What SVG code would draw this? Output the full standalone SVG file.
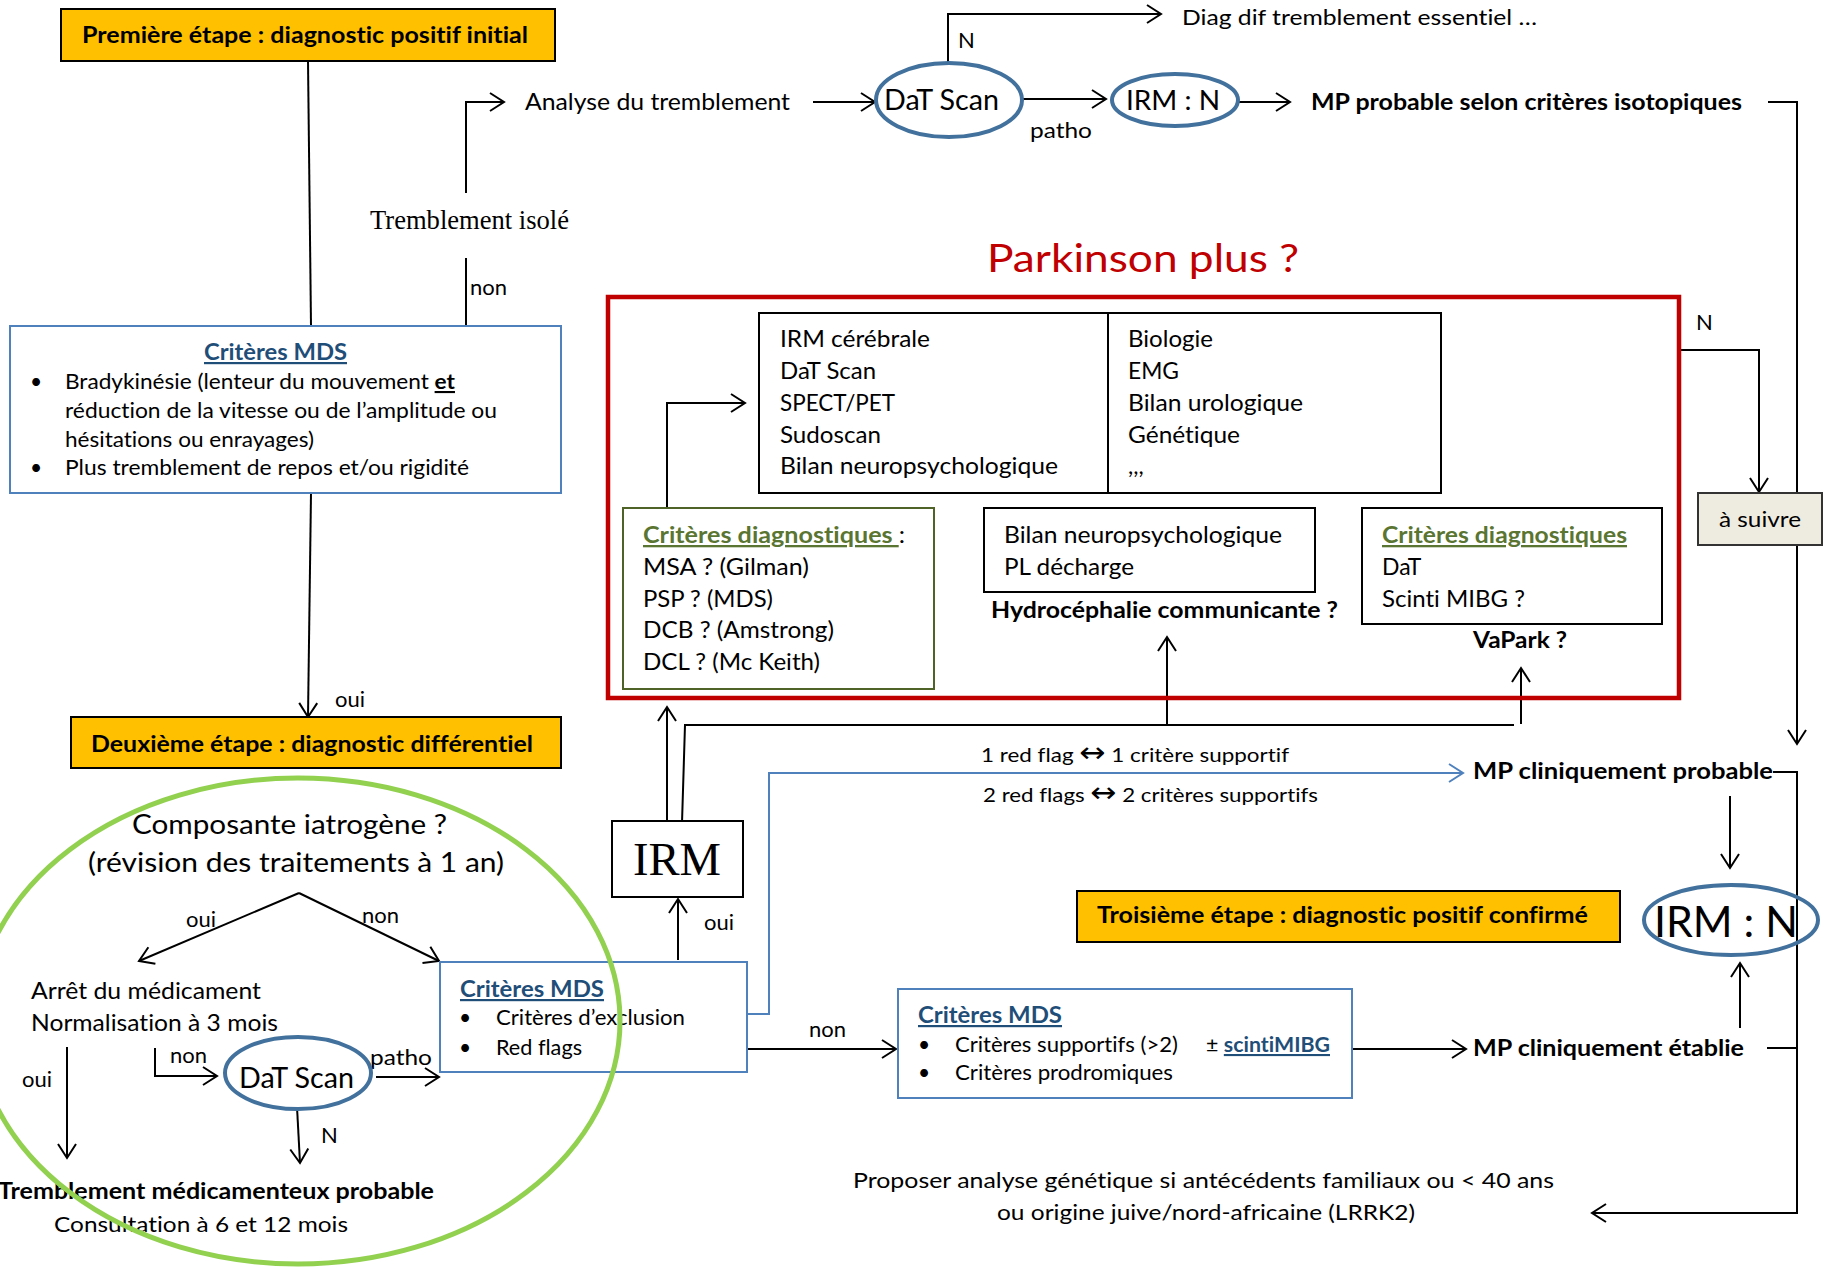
<svg xmlns="http://www.w3.org/2000/svg" width="1826" height="1268" viewBox="0 0 1826 1268" font-size="22">
<style>
text{font-family:Lato,'Liberation Sans',sans-serif;fill:#000;font-variant-ligatures:none}
.b{font-weight:bold}
.ser{font-family:'Liberation Serif',serif}
.u{text-decoration:underline}
.blue{fill:#1F4E79}
.olive{fill:#5A7531}
.red{fill:#C00000}
.arr{font-family:'DejaVu Sans',sans-serif}
.stage{fill:#FFC000;stroke:#000;stroke-width:2}
.bx{fill:#fff;stroke:#000;stroke-width:2}
.bbx{fill:#fff;stroke:#4F81BD;stroke-width:2}
.gbx{fill:#fff;stroke:#4F6228;stroke-width:2}
.ell{fill:none;stroke:#41719C;stroke-width:4}
.c{fill:none;stroke:#000;stroke-width:2}
.ca{fill:none;stroke:#000;stroke-width:2;marker-end:url(#a)}
.cb{fill:none;stroke:#4F81BD;stroke-width:2;marker-end:url(#ab)}
</style>
<defs>
<marker id="a" markerUnits="userSpaceOnUse" markerWidth="20" markerHeight="24" viewBox="-17 -12 20 24" refX="0" refY="0" orient="auto"><path d="M-14,-9 L0,0 L-14,9" fill="none" stroke="#000" stroke-width="2"/></marker>
<marker id="ab" markerUnits="userSpaceOnUse" markerWidth="20" markerHeight="24" viewBox="-17 -12 20 24" refX="0" refY="0" orient="auto"><path d="M-14,-9 L0,0 L-14,9" fill="none" stroke="#4F81BD" stroke-width="2"/></marker>
</defs>
<rect width="1826" height="1268" fill="#fff"/>

<g id="connectors">
<path class="c" d="M308,61 L311,326"/>
<path class="ca" d="M466,193 V102 H504"/>
<path class="c" d="M466,258 V326"/>
<path class="ca" d="M813,102 H875"/>
<path class="ca" d="M948,63 V14 H1161"/>
<path class="ca" d="M1022,99 H1106"/>
<path class="ca" d="M1238,102 H1290"/>
<path class="ca" d="M1768,102 H1797 V744"/>
<path class="ca" d="M311,493 L308,717"/>
<path class="ca" d="M667,518 V403 H745"/>
<path class="ca" d="M1680,350 H1759 V492"/>
<path class="ca" d="M667,821 V707"/>
<path class="c" d="M682,823 L685,725 H1514"/>
<path class="ca" d="M1167,725 V637"/>
<path class="ca" d="M1521,724 V668"/>
<path class="cb" d="M747,1014 H769 V773 H1463"/>
<path class="ca" d="M747,1049 H896"/>
<path class="ca" d="M678,960 V899"/>
<path class="ca" d="M1353,1049 H1466"/>
<path class="ca" d="M1773,772 H1797 V1213 H1592"/>
<path class="c" d="M1767,1048 H1797"/>
<path class="ca" d="M1730,796 V868"/>
<path class="ca" d="M1740,1028 V963"/>
<path class="ca" d="M299,893 L139,961"/>
<path class="ca" d="M299,893 L439,961"/>
<path class="ca" d="M67,1047 V1158"/>
<path class="ca" d="M155,1048 V1076 H217"/>
<path class="ca" d="M376,1077 H439"/>
<path class="ca" d="M297,1107 L300,1163"/>
</g>

<g id="labels">
<text x="525" y="110" font-size="23" textLength="265" lengthAdjust="spacingAndGlyphs">Analyse du tremblement</text>
<text class="ser" x="370" y="229" font-size="28" textLength="199" lengthAdjust="spacingAndGlyphs">Tremblement isolé</text>
<text x="470" y="295">non</text>
<text x="958" y="48">N</text>
<text x="1182" y="25" textLength="355" lengthAdjust="spacingAndGlyphs">Diag dif tremblement essentiel …</text>
<text x="1030" y="138" textLength="62" lengthAdjust="spacingAndGlyphs">patho</text>
<text class="b" x="1311" y="110" textLength="431" lengthAdjust="spacingAndGlyphs">MP probable selon critères isotopiques</text>
<text class="red" x="987" y="272" font-size="39" textLength="312" lengthAdjust="spacingAndGlyphs">Parkinson plus ?</text>
<text x="335" y="707">oui</text>
<text class="b" x="991" y="618" textLength="347" lengthAdjust="spacingAndGlyphs">Hydrocéphalie communicante ?</text>
<text class="b" x="1473" y="648" textLength="94" lengthAdjust="spacingAndGlyphs">VaPark ?</text>
<text x="1696" y="330">N</text>
<text x="704" y="930">oui</text>
<text x="981" y="762" font-size="20" textLength="308" lengthAdjust="spacingAndGlyphs">1 red flag <tspan class="arr" font-size="28">↔</tspan> 1 critère supportif</text>
<text x="983" y="802" font-size="20" textLength="335" lengthAdjust="spacingAndGlyphs">2 red flags <tspan class="arr" font-size="28">↔</tspan> 2 critères supportifs</text>
<text x="809" y="1037">non</text>
<text class="b" x="1473" y="779" textLength="300" lengthAdjust="spacingAndGlyphs">MP cliniquement  probable</text>
<text class="b" x="1473" y="1056" textLength="271" lengthAdjust="spacingAndGlyphs">MP cliniquement établie</text>
<text x="853" y="1188" textLength="701" lengthAdjust="spacingAndGlyphs">Proposer analyse génétique si antécédents familiaux ou &lt;  40 ans</text>
<text x="997" y="1220" textLength="418" lengthAdjust="spacingAndGlyphs">ou origine juive/nord-africaine (LRRK2)</text>
</g>

<g id="etape1">
<rect class="stage" x="61" y="9" width="494" height="52"/>
<text class="b" x="82" y="43" textLength="446" lengthAdjust="spacingAndGlyphs">Première étape : diagnostic positif initial</text>
</g>

<g id="dat-scan-1">
<ellipse class="ell" cx="949" cy="100" rx="73" ry="37"/>
<text x="884" y="110" font-size="28" textLength="115" lengthAdjust="spacingAndGlyphs">DaT Scan</text>
</g>

<g id="irm-n-1">
<ellipse class="ell" cx="1175" cy="100" rx="63" ry="26"/>
<text x="1126" y="110" font-size="27" textLength="94" lengthAdjust="spacingAndGlyphs">IRM : N</text>
</g>

<g id="criteres-mds-1">
<rect class="bbx" x="10" y="326" width="551" height="167"/>
<text class="b u blue" x="204" y="360" textLength="143" lengthAdjust="spacingAndGlyphs">Critères MDS</text>
<text x="30" y="389" font-size="21">•</text>
<text x="65" y="389" font-size="21" textLength="390" lengthAdjust="spacingAndGlyphs">Bradykinésie (lenteur du mouvement <tspan class="b u">et</tspan></text>
<text x="65" y="418" font-size="21" textLength="432" lengthAdjust="spacingAndGlyphs">réduction de la vitesse  ou de l’amplitude ou</text>
<text x="65" y="447" font-size="21" textLength="249" lengthAdjust="spacingAndGlyphs">hésitations ou enrayages)</text>
<text x="30" y="475" font-size="21">•</text>
<text x="65" y="475" font-size="21" textLength="404" lengthAdjust="spacingAndGlyphs">Plus  tremblement de repos et/ou rigidité</text>
</g>

<g id="etape2">
<rect class="stage" x="71" y="717" width="490" height="51"/>
<text class="b" x="91" y="752" font-size="23" textLength="442" lengthAdjust="spacingAndGlyphs">Deuxième étape : diagnostic différentiel</text>
</g>

<g id="parkinson-plus">
<rect x="608" y="297" width="1071" height="401" fill="none" stroke="#C00000" stroke-width="4.5"/>
</g>

<g id="examens-1">
<rect class="bx" x="759" y="313" width="349" height="180"/>
<text x="780" y="347" font-size="23" textLength="150" lengthAdjust="spacingAndGlyphs">IRM cérébrale</text>
<text x="780" y="379" font-size="23" textLength="96" lengthAdjust="spacingAndGlyphs">DaT Scan</text>
<text x="780" y="411" font-size="23" textLength="115" lengthAdjust="spacingAndGlyphs">SPECT/PET</text>
<text x="780" y="443" font-size="23" textLength="101" lengthAdjust="spacingAndGlyphs">Sudoscan</text>
<text x="780" y="474" font-size="23" textLength="278" lengthAdjust="spacingAndGlyphs">Bilan neuropsychologique</text>
</g>

<g id="examens-2">
<rect class="bx" x="1108" y="313" width="333" height="180"/>
<text x="1128" y="347" font-size="23" textLength="85" lengthAdjust="spacingAndGlyphs">Biologie</text>
<text x="1128" y="379" font-size="23" textLength="51" lengthAdjust="spacingAndGlyphs">EMG</text>
<text x="1128" y="411" font-size="23" textLength="175" lengthAdjust="spacingAndGlyphs">Bilan urologique</text>
<text x="1128" y="443" font-size="23" textLength="112" lengthAdjust="spacingAndGlyphs">Génétique</text>
<text x="1128" y="474" font-size="23">,,,</text>
</g>

<g id="criteres-diag-1">
<rect class="gbx" x="623" y="508" width="311" height="181"/>
<text x="643" y="543" font-size="23" textLength="262" lengthAdjust="spacingAndGlyphs"><tspan class="u olive b">Critères diagnostiques </tspan><tspan> :</tspan></text>
<text x="643" y="575" font-size="23" textLength="166" lengthAdjust="spacingAndGlyphs">MSA ? (Gilman)</text>
<text x="643" y="607" font-size="23" textLength="130" lengthAdjust="spacingAndGlyphs">PSP ? (MDS)</text>
<text x="643" y="638" font-size="23" textLength="191" lengthAdjust="spacingAndGlyphs">DCB ? (Amstrong)</text>
<text x="643" y="670" font-size="23" textLength="177" lengthAdjust="spacingAndGlyphs">DCL ? (Mc Keith)</text>
</g>

<g id="bilan-hydro">
<rect class="bx" x="984" y="508" width="331" height="84"/>
<text x="1004" y="543" font-size="23" textLength="278" lengthAdjust="spacingAndGlyphs">Bilan neuropsychologique</text>
<text x="1004" y="575" font-size="23" textLength="130" lengthAdjust="spacingAndGlyphs">PL décharge</text>
</g>

<g id="criteres-diag-2">
<rect class="bx" x="1362" y="508" width="300" height="116"/>
<text class="u olive b" x="1382" y="543" font-size="23" textLength="245" lengthAdjust="spacingAndGlyphs">Critères diagnostiques</text>
<text x="1382" y="575" font-size="23">DaT</text>
<text x="1382" y="607" font-size="23" textLength="143" lengthAdjust="spacingAndGlyphs">Scinti MIBG ?</text>
</g>

<g id="a-suivre">
<rect x="1698" y="493" width="124" height="52" fill="#EEECE1" stroke="#333" stroke-width="2"/>
<text x="1760" y="527" text-anchor="middle" textLength="82" lengthAdjust="spacingAndGlyphs">à suivre</text>
</g>

<g id="irm">
<rect class="bx" x="612" y="821" width="131" height="76"/>
<text class="ser" x="633" y="875" font-size="47" textLength="88" lengthAdjust="spacingAndGlyphs">IRM</text>
</g>

<g id="criteres-mds-3">
<rect class="bbx" x="898" y="989" width="454" height="109"/>
<text class="b u blue" x="918" y="1023" textLength="144" lengthAdjust="spacingAndGlyphs">Critères MDS</text>
<text x="918" y="1052" font-size="21">•</text>
<text x="955" y="1052" font-size="21" textLength="223" lengthAdjust="spacingAndGlyphs">Critères supportifs (&gt;2)</text>
<text x="1206" y="1052" font-size="21" textLength="124" lengthAdjust="spacingAndGlyphs">± <tspan class="b u blue">scintiMIBG</tspan></text>
<text x="918" y="1080" font-size="21">•</text>
<text x="955" y="1080" font-size="21" textLength="218" lengthAdjust="spacingAndGlyphs">Critères prodromiques</text>
</g>

<g id="etape3">
<rect class="stage" x="1077" y="891" width="543" height="51"/>
<text class="b" x="1097" y="923" font-size="23" textLength="491" lengthAdjust="spacingAndGlyphs">Troisième étape : diagnostic positif confirmé</text>
</g>

<g id="irm-n-2">
<ellipse class="ell" cx="1731" cy="920" rx="87" ry="35"/>
<text x="1654" y="937" font-size="42" textLength="144" lengthAdjust="spacingAndGlyphs">IRM : N</text>
</g>

<g id="iatrogene-content">
<text x="132" y="834" font-size="26" textLength="315" lengthAdjust="spacingAndGlyphs">Composante iatrogène ?</text>
<text x="88" y="872" font-size="26" textLength="416" lengthAdjust="spacingAndGlyphs">(révision des traitements à 1 an)</text>
<text x="186" y="927">oui</text>
<text x="362" y="923">non</text>
<text x="31" y="999" font-size="23" textLength="230" lengthAdjust="spacingAndGlyphs">Arrêt du médicament</text>
<text x="31" y="1031" font-size="23" textLength="247" lengthAdjust="spacingAndGlyphs">Normalisation à 3 mois</text>
<text x="22" y="1087">oui</text>
<text x="170" y="1063">non</text>
<text x="370" y="1065" textLength="62" lengthAdjust="spacingAndGlyphs">patho</text>
<text x="321" y="1143">N</text>
<text class="b" x="-2" y="1199" textLength="436" lengthAdjust="spacingAndGlyphs">Tremblement médicamenteux probable</text>
<text x="54" y="1232" textLength="294" lengthAdjust="spacingAndGlyphs">Consultation à 6 et 12 mois</text>
</g>

<g id="dat-scan-2">
<ellipse class="ell" cx="298" cy="1073" rx="73" ry="36"/>
<text x="239" y="1088" font-size="28" textLength="115" lengthAdjust="spacingAndGlyphs">DaT Scan</text>
</g>

<g id="criteres-mds-2">
<rect class="bbx" x="440" y="962" width="307" height="110"/>
<text class="b u blue" x="460" y="997" textLength="144" lengthAdjust="spacingAndGlyphs">Critères MDS</text>
<text x="459" y="1025" font-size="21">•</text>
<text x="496" y="1025" font-size="21" textLength="189" lengthAdjust="spacingAndGlyphs">Critères d’exclusion</text>
<text x="459" y="1055" font-size="21">•</text>
<text x="496" y="1055" font-size="21" textLength="86" lengthAdjust="spacingAndGlyphs">Red flags</text>
</g>

<g id="iatrogene">
<ellipse cx="298" cy="1021" rx="322" ry="243" fill="none" stroke="#92D050" stroke-width="5"/>
</g>
</svg>
